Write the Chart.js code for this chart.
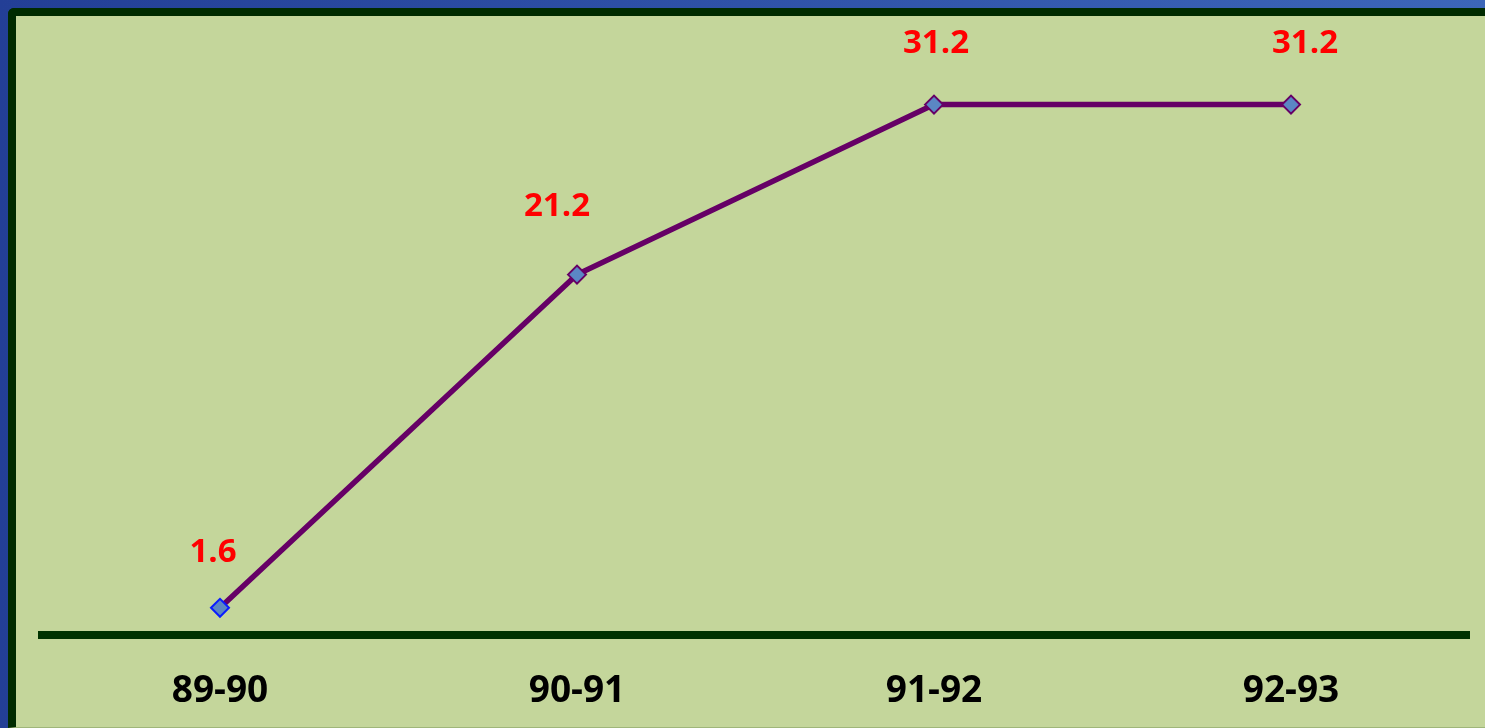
<!DOCTYPE html>
<html>
<head>
<meta charset="utf-8">
<script src="https://cdn.jsdelivr.net/npm/chart.js@4.4.0/dist/chart.umd.min.js"></script>
<style>
  html, body { margin: 0; padding: 0; }
  body {
    width: 1485px; height: 728px; overflow: hidden; position: relative;
    background: linear-gradient(90deg, #233f96 0%, #2f52a8 50%, #3c66b9 100%);
  }
  .panel {
    position: absolute; left: 8px; top: 8px; right: 0; bottom: 0;
    background: #c4d69b;
    border-left: 8px solid #002b00;
    border-top: 8px solid #002b00;
    border-top-left-radius: 6px;
    border-bottom: 1px solid #9fb67a;
  }
  .chart-div { position: absolute; left: 0; top: 0; width: 1485px; height: 728px; }
</style>
</head>
<body>
<div class="panel"></div>
<div class="chart-div"><canvas id="myChart" width="1485" height="728"></canvas></div>
<script>
const years = ["89-90", "90-91", "91-92", "92-93"];
const growth = [1.6, 21.2, 31.2, 31.2];
const growthLabels = ["1.6", "21.2", "31.2", "31.2"];

// small nudges so the red labels sit like the original
const labelDx = [-7, -20, 2, 14];
const labelDy = [-55, -68, -61, -61];

const ctx = document.getElementById("myChart");

const valueLabels = {
  id: "valueLabels",
  afterDatasetsDraw(chart) {
    const c = chart.ctx;
    const meta = chart.getDatasetMeta(0);
    c.save();
    c.fillStyle = "#ff0000";
    c.font = "bold 33px 'Open Sans'";
    c.textAlign = "center";
    c.textBaseline = "middle";
    meta.data.forEach((pt, i) => {
      c.fillText(growthLabels[i], pt.x + labelDx[i], pt.y + labelDy[i]);
    });
    c.restore();
  },
};

const myChart = new Chart(ctx, {
  type: "line",
  data: {
    labels: years,
    datasets: [
      {
        data: growth,
        borderColor: "#660066",
        borderWidth: 5.5,
        tension: 0,
        pointStyle: "rectRot",
        pointRadius: 9,
        pointBorderWidth: 2,
        pointBackgroundColor: "#5b87c4",
        pointBorderColor: ["#0a1dff", "#660066", "#660066", "#660066"],
      },
    ],
  },
  options: {
    responsive: false,
    animation: false,
    events: [],
    layout: {
      padding: { left: 41.5, right: 15.5, top: 23, bottom: 0 },
    },
    plugins: {
      legend: { display: false },
      tooltip: { enabled: false },
    },
    scales: {
      x: {
        offset: true,
        grid: { display: false, drawTicks: false },
        border: { display: true, color: "#003300", width: 8 },
        ticks: {
          color: "#000000",
          font: { family: "'Open Sans'", size: 37, weight: "bold" },
          padding: 34,
        },
        afterFit(scale) {
          scale.height = 93;
        },
      },
      y: {
        display: false,
        min: 0,
        max: 36,
      },
    },
  },
  plugins: [valueLabels],
});
</script>
</body>
</html>
